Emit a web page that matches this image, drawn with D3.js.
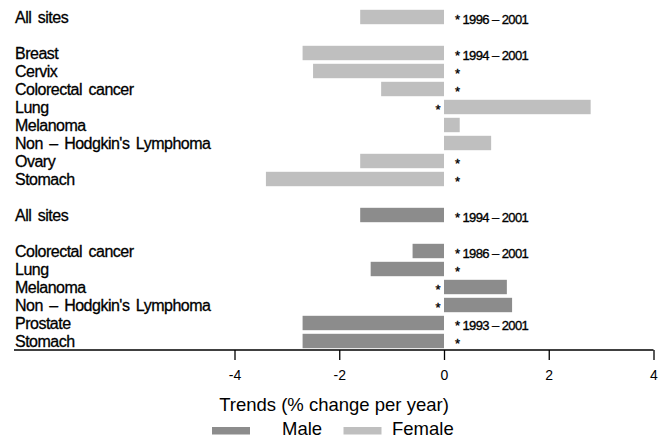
<!DOCTYPE html>
<html>
<head>
<meta charset="utf-8">
<script src="https://cdn.jsdelivr.net/npm/d3@7"></script>
<style>
  html, body { margin: 0; padding: 0; background: #fff; }
  svg { display: block; }
  text { font-family: "Liberation Sans", Arial, Helvetica, sans-serif; fill: #000; }
</style>
</head>
<body>
<svg id="chart" width="666" height="439"></svg>
<script>
// Annual percent change in cancer incidence, by site and sex
const femaleSites  = ["All sites", "Breast", "Cervix", "Colorectal cancer", "Lung", "Melanoma", "Non – Hodgkin's Lymphoma", "Ovary", "Stomach"];
const femaleTrends = [-1.6, -2.7, -2.5, -1.2, 2.8, 0.3, 0.9, -1.6, -3.4];
const femaleNotes  = ["* 1996 – 2001", "* 1994 – 2001", "*", "*", "*", "", "", "*", "*"];

const maleSites  = ["All sites", "Colorectal cancer", "Lung", "Melanoma", "Non – Hodgkin's Lymphoma", "Prostate", "Stomach"];
const maleTrends = [-1.6, -0.6, -1.4, 1.2, 1.3, -2.7, -2.7];
const maleNotes  = ["* 1994 – 2001", "* 1986 – 2001", "*", "*", "*", "* 1993 – 2001", "*"];

const xTicks = [-4, -2, 0, 2, 4];
const legendLabels = ["Male", "Female"];

const colors = { Male: "#8c8c8c", Female: "#bfbfbf" };

// Row layout: "All sites" row, a blank spacer, then the individual sites, for each sex
const rows = [];
function addGroup(sex, sites, trends, notes) {
  sites.forEach((s, i) => {
    rows.push({ sex, site: s, value: trends[i], note: notes[i] });
    if (i === 0) rows.push(null);
  });
}
addGroup("Female", femaleSites, femaleTrends, femaleNotes);
rows.push(null);
addGroup("Male", maleSites, maleTrends, maleNotes);

const svg = d3.select("#chart");

const x = d3.scaleLinear().domain([-4, 4]).range([234.5, 653.5]);
const y = d3.scaleBand()
  .domain(d3.range(rows.length))
  .range([8, 350])
  .paddingInner(0.2)
  .paddingOuter(0.1);

const items = rows.map((r, i) => r ? Object.assign({ idx: i }, r) : null).filter(Boolean);

// Bars
svg.append("g").selectAll("rect")
  .data(items)
  .join("rect")
  .attr("x", d => x(Math.min(0, d.value)))
  .attr("width", d => Math.abs(x(d.value) - x(0)))
  .attr("y", d => y(d.idx))
  .attr("height", y.bandwidth())
  .attr("fill", d => colors[d.sex]);

// Site labels
svg.append("g").selectAll("text")
  .data(items)
  .join("text")
  .attr("x", 15)
  .attr("y", d => y(d.idx) + y.bandwidth() / 2 + 6)
  .attr("font-size", 16)
  .attr("letter-spacing", -0.5)
  .attr("word-spacing", 2.5)
  .attr("stroke", "#000")
  .attr("stroke-width", 0.3)
  .text(d => d.site);

// Significance / period notes next to the zero line
svg.append("g").selectAll("text")
  .data(items.filter(d => d.note))
  .join("text")
  .attr("x", d => d.value < 0 ? x(0) + 11 : x(0) - 4)
  .attr("text-anchor", d => d.value < 0 ? "start" : "end")
  .attr("y", d => y(d.idx) + y.bandwidth() / 2 + 7)
  .attr("font-size", 13)
  .attr("letter-spacing", -0.6)
  .attr("stroke", "#000")
  .attr("stroke-width", 0.35)
  .text(d => d.note);

// X axis
const axisY = 350;
svg.append("line")
  .attr("x1", 14).attr("x2", x(4))
  .attr("y1", axisY).attr("y2", axisY)
  .attr("stroke", "#000").attr("stroke-width", 1.3);

const axis = d3.axisBottom(x).tickValues(xTicks).tickSize(10).tickPadding(10)
  .tickFormat(d => String(d));
const ag = svg.append("g").attr("transform", `translate(0,${axisY})`).call(axis);
ag.select(".domain").remove();
ag.selectAll(".tick line").attr("stroke", "#000").attr("stroke-width", 1.3);
ag.selectAll(".tick text")
  .attr("font-family", "Liberation Sans, Arial, sans-serif")
  .attr("font-size", 14)
  .attr("fill", "#000");

// Axis title
svg.append("text")
  .attr("x", 334).attr("y", 411)
  .attr("text-anchor", "middle")
  .attr("font-size", 18.5)
  .text("Trends (% change per year)");

// Legend
const legendPos = [{ rx: 212, tx: 282 }, { rx: 343.5, tx: 392 }];
const lg = svg.append("g");
legendLabels.forEach((name, i) => {
  lg.append("rect")
    .attr("x", legendPos[i].rx).attr("y", 427)
    .attr("width", 38).attr("height", 7.5)
    .attr("fill", colors[name]);
  lg.append("text")
    .attr("x", legendPos[i].tx).attr("y", 435)
    .attr("font-size", 18.5)
    .text(name);
});
</script>
</body>
</html>
